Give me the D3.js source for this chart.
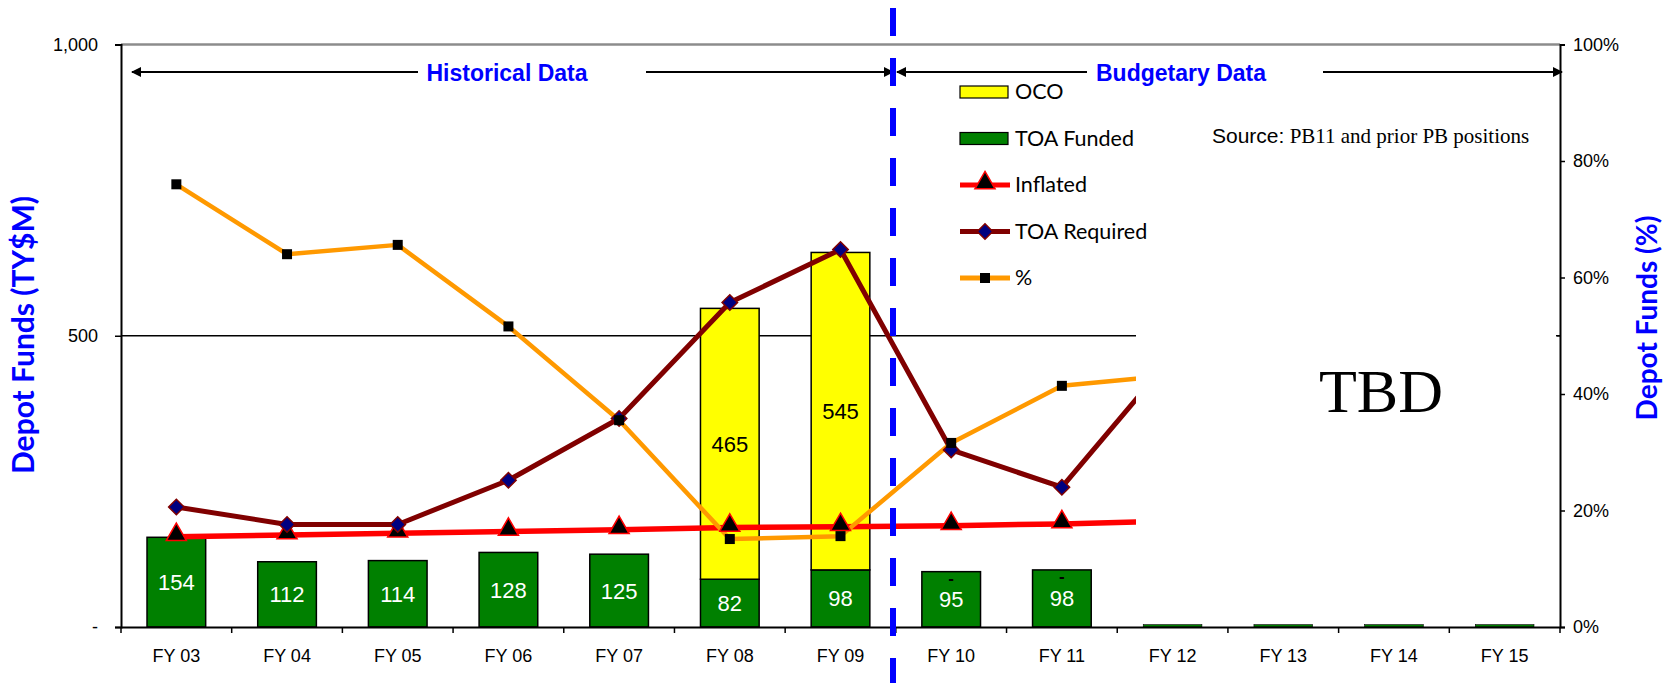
<!DOCTYPE html>
<html>
<head>
<meta charset="utf-8">
<script src="https://cdn.jsdelivr.net/npm/d3@7"></script>
<style>
  body { margin: 0; background: #fff; }
  svg text { font-family: "Liberation Sans", Arial, sans-serif; }
</style>
</head>
<body>
<svg id="chart" width="1669" height="683"></svg>
<script>
// values
var categories = ["FY 03","FY 04","FY 05","FY 06","FY 07","FY 08","FY 09","FY 10","FY 11","FY 12","FY 13","FY 14","FY 15"];
var toaFunded = [154,112,114,128,125,82,98,95,98,4,4,4,4];
var oco = [null,null,null,null,null,465,545,0,0,null,null,null,null];
var inflated = [155,158,161,164,167,171,172,174,177,182,null,null,null];
var toaRequired = [206,176,176,252,358,557,648,304,240,465,null,null,null];
var pct = [76.0,64.0,65.6,51.6,35.5,15.1,15.6,31.6,41.4,43.2,null,null,null];
var leftTicks = [0,500,1000];
var leftTickLabels = ["-","500","1,000"];
var rightTicks = [0,20,40,60,80,100];

var svg = d3.select("#chart");

// plot area (window.top is read-only, so no "top" here)
var pLeft = 121, pRight = 1560, pTop = 44.5, pBottom = 627;

var x = d3.scaleBand().domain(categories).range([pLeft,pRight]).padding(0);
var y = d3.scaleLinear().domain([0,1000]).range([pBottom,pTop]);
var y2 = d3.scaleLinear().domain([0,100]).range([pBottom,pTop]);
var cx = function(c){ return x(c) + x.bandwidth()/2; };
var barW = x.bandwidth()*0.53;

// gridline at 500 + top border
svg.append("line").attr("x1",pLeft).attr("x2",pRight).attr("y1",y(500)).attr("y2",y(500))
  .attr("stroke","#000").attr("stroke-width",1.5);
svg.append("line").attr("x1",pLeft).attr("x2",pRight).attr("y1",y(1000)).attr("y2",y(1000))
  .attr("stroke","#8c8c8c").attr("stroke-width",2.5);

// bars
var g = svg.append("g");
g.selectAll(".green").data(categories).enter().append("rect")
  .attr("x",d=>cx(d)-barW/2)
  .attr("y",(d,i)=>y(toaFunded[i]))
  .attr("width",barW)
  .attr("height",(d,i)=>y(0)-y(toaFunded[i]))
  .attr("fill","#008000").attr("stroke","#000")
  .attr("stroke-width",(d,i)=>toaFunded[i]<10 ? 0.6 : 1.5);

g.selectAll(".yellow").data(categories.filter((d,i)=>oco[i]>0)).enter().append("rect")
  .attr("x",d=>cx(d)-barW/2)
  .attr("y",d=>{ var i=categories.indexOf(d); return y(toaFunded[i]+oco[i]); })
  .attr("width",barW)
  .attr("height",d=>{ var i=categories.indexOf(d); return y(toaFunded[i])-y(toaFunded[i]+oco[i]); })
  .attr("fill","#ffff00").attr("stroke","#000").attr("stroke-width",1.5);

// bar labels
g.selectAll(".glab").data(categories.filter((d,i)=>toaFunded[i]>=10)).enter().append("text")
  .attr("x",d=>cx(d))
  .attr("y",d=>{ var i=categories.indexOf(d); return (y(0)+y(toaFunded[i]))/2 + 8; })
  .attr("text-anchor","middle").attr("fill","#fff").style("font-size","22px")
  .text(d=>toaFunded[categories.indexOf(d)]);

g.selectAll(".ylab").data(categories.filter((d,i)=>oco[i]!=null)).enter().append("text")
  .attr("x",d=>cx(d))
  .attr("y",d=>{ var i=categories.indexOf(d);
    if(oco[i]==0) return y(toaFunded[i]) + 12;
    return (y(toaFunded[i])+y(toaFunded[i]+oco[i]))/2 + 8; })
  .attr("text-anchor","middle").attr("fill","#000")
  .style("font-size",d=>oco[categories.indexOf(d)]==0 ? "17px" : "22px")
  .style("font-weight",d=>oco[categories.indexOf(d)]==0 ? "bold" : null)
  .text(d=>{ var v=oco[categories.indexOf(d)]; return v==0 ? "-" : v; });

// lines
function drawLine(vals, scale, color, w){
  var line = d3.line().defined(d=>d[1]!=null).x(d=>cx(d[0])).y(d=>scale(d[1]));
  svg.append("path").datum(categories.map((c,i)=>[c,vals[i]]))
    .attr("d",line).attr("fill","none").attr("stroke",color).attr("stroke-width",w)
    .attr("stroke-linejoin","round");
}
drawLine(inflated, y, "#ff0000", 5.5);
drawLine(toaRequired, y, "#800000", 5);
drawLine(pct, y2, "#ff9900", 4.5);

var tri = d3.symbol().type(d3.symbolTriangle).size(175);
var dia = d3.symbol().type(d3.symbolSquare).size(120);

svg.selectAll(".tri").data(categories.filter((d,i)=>inflated[i]!=null)).enter().append("path")
  .attr("d",tri)
  .attr("transform",d=>"translate("+cx(d)+","+(y(inflated[categories.indexOf(d)])-2)+")")
  .attr("fill","#000").attr("stroke","#ff0000").attr("stroke-width",1.5);
svg.selectAll(".dia").data(categories.filter((d,i)=>toaRequired[i]!=null)).enter().append("path")
  .attr("d",dia)
  .attr("transform",d=>"translate("+cx(d)+","+y(toaRequired[categories.indexOf(d)])+") rotate(45)")
  .attr("fill","#000080").attr("stroke","#800000").attr("stroke-width",1.5);
svg.selectAll(".sq").data(categories.filter((d,i)=>pct[i]!=null)).enter().append("rect")
  .attr("x",d=>cx(d)-5).attr("y",d=>y2(pct[categories.indexOf(d)])-5)
  .attr("width",10).attr("height",10).attr("fill","#000");

// TBD box covering out years
svg.append("rect").attr("x",1136).attr("y",165).attr("width",421).attr("height",452).attr("fill","#fff");
svg.append("text").attr("x",1381).attr("y",412).attr("text-anchor","middle")
  .style("font-family","'Liberation Serif', 'Times New Roman', serif").style("font-size","62px")
  .text("TBD");

var src = svg.append("text").attr("x",1212).attr("y",143).style("font-size","21px");
src.append("tspan").text("Source:");
src.append("tspan").style("font-family","'Liberation Serif', 'Times New Roman', serif").text(" PB11 and prior PB positions");

// axes
var yAxis = svg.append("g").attr("transform","translate("+pLeft+",0)")
  .call(d3.axisLeft(y).tickValues(leftTicks).tickFormat((d,i)=>leftTickLabels[i]).tickSize(6).tickPadding(17));
var y2Axis = svg.append("g").attr("transform","translate("+pRight+",0)")
  .call(d3.axisRight(y2).tickValues(rightTicks).tickFormat(d=>d+"%").tickSize(5).tickPadding(8));
[yAxis,y2Axis].forEach(function(a){
  a.select(".domain").attr("stroke","#000").attr("stroke-width",2);
  a.selectAll(".tick line").attr("stroke","#000").attr("stroke-width",1.5);
  a.selectAll("text").style("font-size","18px").attr("fill","#000").style("font-family","'Liberation Sans', Arial, sans-serif");
});
svg.append("line").attr("x1",pRight-4).attr("x2",pRight).attr("y1",y(500)).attr("y2",y(500)).attr("stroke","#000").attr("stroke-width",1.5);

var xAxis = svg.append("g").attr("transform","translate(0,"+pBottom+")")
  .call(d3.axisBottom(x).tickSize(0).tickPadding(22));
xAxis.select(".domain").attr("stroke","#000").attr("stroke-width",2);
xAxis.selectAll("text").style("font-size","18px").attr("fill","#000").style("font-family","'Liberation Sans', Arial, sans-serif");
xAxis.selectAll(".bt").data(categories.concat(["end"])).enter().append("line")
  .attr("x1",d=>d=="end"? pRight : x(d)).attr("x2",d=>d=="end"? pRight : x(d))
  .attr("y1",0).attr("y2",6).attr("stroke","#000").attr("stroke-width",1.5);

// axis titles
svg.append("text").attr("transform","translate(34,335) rotate(-90)").attr("text-anchor","middle")
  .style("font-family","Lato, 'Open Sans', sans-serif").style("font-weight","bold").style("font-size","30px")
  .attr("fill","#0000ff").text("Depot Funds (TY$M)");
svg.append("text").attr("transform","translate(1657,318) rotate(-90)").attr("text-anchor","middle")
  .style("font-family","Lato, 'Open Sans', sans-serif").style("font-weight","bold").style("font-size","28px")
  .attr("fill","#0000ff").text("Depot Funds (%)");

// arrows
var defs = svg.append("defs");
defs.append("marker").attr("id","ah").attr("viewBox","0 0 10 10").attr("refX",9).attr("refY",5)
  .attr("markerWidth",5).attr("markerHeight",5).attr("orient","auto-start-reverse")
  .append("path").attr("d","M0,0 L10,5 L0,10 z").attr("fill","#000");

var arrY = 72;
svg.append("line").attr("x1",132).attr("x2",418).attr("y1",arrY).attr("y2",arrY)
  .attr("stroke","#000").attr("stroke-width",2).attr("marker-start","url(#ah)");
svg.append("line").attr("x1",646).attr("x2",893).attr("y1",arrY).attr("y2",arrY)
  .attr("stroke","#000").attr("stroke-width",2).attr("marker-end","url(#ah)");
svg.append("line").attr("x1",897).attr("x2",1087).attr("y1",arrY).attr("y2",arrY)
  .attr("stroke","#000").attr("stroke-width",2).attr("marker-start","url(#ah)");
svg.append("line").attr("x1",1323).attr("x2",1562).attr("y1",arrY).attr("y2",arrY)
  .attr("stroke","#000").attr("stroke-width",2).attr("marker-end","url(#ah)");
svg.append("text").attr("x",507).attr("y",arrY+9).attr("text-anchor","middle")
  .style("font-weight","bold").style("font-size","23px").attr("fill","#0000ff").text("Historical Data");
svg.append("text").attr("x",1181).attr("y",arrY+9).attr("text-anchor","middle")
  .style("font-weight","bold").style("font-size","23px").attr("fill","#0000ff").text("Budgetary Data");

// dashed divider between actuals and budget
svg.append("line").attr("x1",893).attr("x2",893).attr("y1",8).attr("y2",683)
  .attr("stroke","#0000ff").attr("stroke-width",6).attr("stroke-dasharray","28,22");

// legend
var legend = [
  {name:"OCO", type:"rect", color:"#ffff00"},
  {name:"TOA Funded", type:"rect", color:"#008000"},
  {name:"Inflated", type:"tri", color:"#ff0000"},
  {name:"TOA Required", type:"dia", color:"#800000"},
  {name:"%", type:"sq", color:"#ff9900"}
];
var lg = svg.append("g").attr("transform","translate(960,92)");
legend.forEach(function(l,i){
  var row = lg.append("g").attr("transform","translate(0,"+(i*46.5)+")");
  if(l.type=="rect"){
    row.append("rect").attr("x",0).attr("y",-6).attr("width",48).attr("height",12)
      .attr("fill",l.color).attr("stroke","#000").attr("stroke-width",1.2);
  } else {
    row.append("line").attr("x1",0).attr("x2",50).attr("y1",0).attr("y2",0)
      .attr("stroke",l.color).attr("stroke-width",5);
    if(l.type=="tri") row.append("path").attr("d",tri).attr("transform","translate(25,-2)")
      .attr("fill","#000").attr("stroke","#ff0000").attr("stroke-width",1.5);
    if(l.type=="dia") row.append("path").attr("d",dia).attr("transform","translate(25,0) rotate(45)")
      .attr("fill","#000080").attr("stroke","#800000").attr("stroke-width",1.5);
    if(l.type=="sq") row.append("rect").attr("x",20).attr("y",-5).attr("width",10).attr("height",10).attr("fill","#000");
  }
  row.append("text").attr("x",55).attr("y",7).style("font-family","Lato, 'Open Sans', sans-serif")
    .style("font-size","21.5px").attr("fill","#000").text(l.name);
});
</script>
</body>
</html>
